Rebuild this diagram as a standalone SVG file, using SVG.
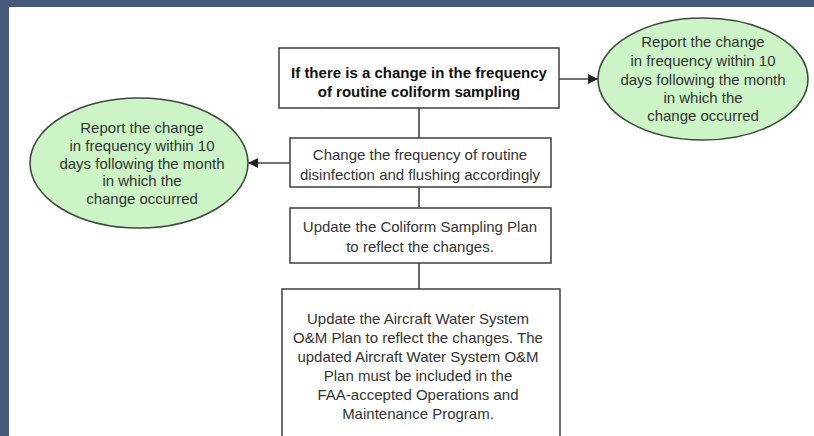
<svg xmlns="http://www.w3.org/2000/svg" width="814" height="436" viewBox="0 0 814 436">
  <defs>
    <marker id="arrow" viewBox="0 0 10 10" refX="10" refY="5" markerWidth="10" markerHeight="10" markerUnits="userSpaceOnUse" orient="auto">
      <path d="M0,0 L10,5 L0,10 z" fill="#222"/>
    </marker>
    <style>
      .box { fill: #ffffff; stroke: #4a4a4a; stroke-width: 1.6; }
      .oval { fill: #ccf4c6; stroke: #3e4a3e; stroke-width: 1.6; }
      .t { font-family: "Liberation Sans", Arial, sans-serif; font-size: 15px; fill: #333; text-anchor: middle; }
      .b { font-weight: bold; fill: #111; }
      .line { stroke: #444; stroke-width: 1.6; fill: none; }
    </style>
  </defs>
  <rect x="0" y="0" width="814" height="436" fill="#ffffff"/>
  <rect x="0" y="0" width="814" height="7" fill="#465a7c"/>
  <rect x="0" y="0" width="9" height="436" fill="#465a7c"/>

  <g id="connectors">
    <line class="line" x1="419" y1="108" x2="419" y2="138"/>
    <line class="line" x1="419" y1="187" x2="419" y2="208"/>
    <line class="line" x1="419" y1="263" x2="419" y2="289"/>
    <line class="line" x1="559" y1="79" x2="598" y2="79" marker-end="url(#arrow)"/>
    <line class="line" x1="290" y1="163" x2="248" y2="163" marker-end="url(#arrow)"/>
  </g>

  <g id="box1">
    <rect class="box" x="279" y="48" width="280" height="60"/>
    <text class="t b" x="419" y="78">If there is a change in the frequency</text>
    <text class="t b" x="419" y="97">of routine coliform sampling</text>
  </g>

  <g id="report-right">
    <ellipse class="oval" cx="703" cy="79" rx="105" ry="61"/>
    <text class="t" x="703" y="47">Report the change</text>
    <text class="t" x="703" y="66">in frequency within 10</text>
    <text class="t" x="703" y="85">days following the month</text>
    <text class="t" x="703" y="103">in which the</text>
    <text class="t" x="703" y="121">change occurred</text>
  </g>

  <g id="box2">
    <rect class="box" x="290" y="138" width="261" height="49"/>
    <text class="t" x="420" y="160">Change the frequency of routine</text>
    <text class="t" x="420" y="180">disinfection and flushing accordingly</text>
  </g>

  <g id="report-left">
    <ellipse class="oval" cx="139" cy="163" rx="109" ry="65"/>
    <text class="t" x="142" y="133">Report the change</text>
    <text class="t" x="142" y="151">in frequency within 10</text>
    <text class="t" x="142" y="169">days following  the month</text>
    <text class="t" x="142" y="186">in which the</text>
    <text class="t" x="142" y="204">change occurred</text>
  </g>

  <g id="box3">
    <rect class="box" x="290" y="208" width="261" height="55"/>
    <text class="t" x="420" y="232">Update the Coliform Sampling Plan</text>
    <text class="t" x="420" y="252">to reflect the changes.</text>
  </g>

  <g id="box4">
    <rect class="box" x="282" y="289" width="278" height="160"/>
    <text class="t" x="418" y="324">Update the Aircraft Water System</text>
    <text class="t" x="418" y="343">O&amp;M Plan to reflect the changes. The</text>
    <text class="t" x="418" y="362">updated Aircraft Water System O&amp;M</text>
    <text class="t" x="418" y="381">Plan must be included in the</text>
    <text class="t" x="418" y="400">FAA-accepted Operations and</text>
    <text class="t" x="418" y="419">Maintenance Program.</text>
  </g>
</svg>
